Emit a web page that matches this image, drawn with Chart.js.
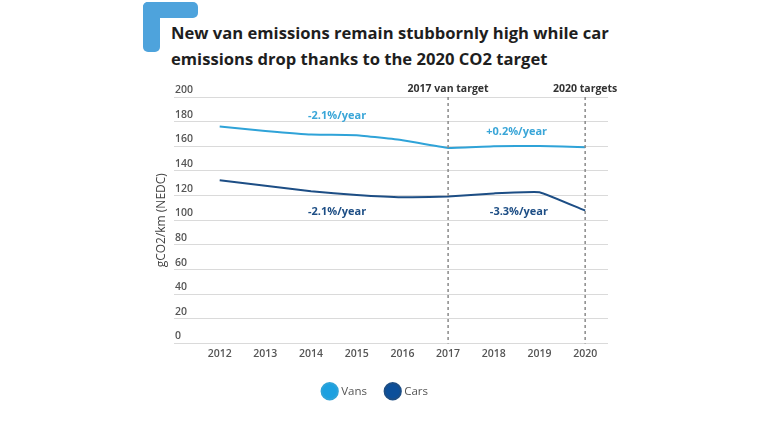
<!DOCTYPE html>
<html>
<head>
<meta charset="utf-8">
<script src="https://cdn.jsdelivr.net/npm/chart.js@4"></script>
<style>
  body { margin: 0; background: #fff; }
  #wrap { position: relative; width: 780px; height: 440px; }
  .corner-h { position: absolute; left: 143px; top: 2px; width: 55px; height: 16px; background: #4ea3dc; border-radius: 5px; }
  .corner-v { position: absolute; left: 143px; top: 2px; width: 17px; height: 50px; background: #4ea3dc; border-radius: 5px; }
  #title { position: absolute; left: 171px; top: 20px; font: 700 16.6px "Open Sans", sans-serif; color: #1e1e1e; line-height: 26px; }
  canvas { position: absolute; left: 0; top: 0; }
</style>
</head>
<body>
<div id="wrap">
  <div class="corner-h"></div>
  <div class="corner-v"></div>
  <div id="title">New van emissions remain stubbornly high while car<br>emissions drop thanks to the 2020 CO2 target</div>
  <canvas id="myChart" width="780" height="440"></canvas>
</div>
<script>
const years = [2012, 2013, 2014, 2015, 2016, 2017, 2018, 2019, 2020];
const vans = [176, 172.5, 169.5, 169, 165, 158.7, 160, 160.3, 159.2];
const cars = [132.5, 128, 123.5, 120.5, 118.7, 119.3, 121.8, 122.8, 107.8];
const yTicks = [0, 20, 40, 60, 80, 100, 120, 140, 160, 180, 200];
const targetYears = [2017, 2020];
const targetLabels = ["2017 van target", "2020 targets"];
const trendNotes = [
  { x: 2014.57, y: 185, text: "-2.1%/year", color: "#3aa6d8" },
  { x: 2018.5, y: 172, text: "+0.2%/year", color: "#3aa6d8" },
  { x: 2014.57, y: 106.5, text: "-2.1%/year", color: "#1d4e85" },
  { x: 2018.55, y: 106.5, text: "-3.3%/year", color: "#1d4e85" },
];

const vanColor = "#2fa3d8";
const carColor = "#1d4e85";

// dashed target lines, their labels and the trend notes
const notesPlugin = {
  id: "notes",
  afterDatasetsDraw(chart) {
    const { ctx, chartArea, scales } = chart;
    ctx.save();
    ctx.strokeStyle = "#8a8a8a";
    ctx.lineWidth = 1.5;
    ctx.setLineDash([3, 3]);
    targetYears.forEach((yr, i) => {
      const x = scales.x.getPixelForValue(yr);
      ctx.beginPath();
      ctx.moveTo(x, chartArea.top);
      ctx.lineTo(x, chartArea.bottom);
      ctx.stroke();
      ctx.fillStyle = "#333";
      ctx.font = "700 10.5px 'Open Sans', sans-serif";
      ctx.textAlign = "center";
      ctx.textBaseline = "middle";
      ctx.fillText(targetLabels[i], x, chartArea.top - 8);
    });
    ctx.setLineDash([]);
    ctx.font = "700 11px 'Open Sans', sans-serif";
    ctx.textAlign = "center";
    ctx.textBaseline = "middle";
    trendNotes.forEach((n) => {
      ctx.fillStyle = n.color;
      ctx.fillText(n.text, scales.x.getPixelForValue(n.x), scales.y.getPixelForValue(n.y));
    });
    ctx.restore();
  },
};

new Chart("myChart", {
  type: "line",
  data: {
    datasets: [
      {
        label: "Vans",
        data: years.map((yr, i) => ({ x: yr, y: vans[i] })),
        borderColor: vanColor,
        backgroundColor: "#1ca0e0",
        borderWidth: 2,
        pointRadius: 0,
        tension: 0.1,
      },
      {
        label: "Cars",
        data: years.map((yr, i) => ({ x: yr, y: cars[i] })),
        borderColor: carColor,
        backgroundColor: "#0c4f9a",
        borderWidth: 2,
        pointRadius: 0,
        tension: 0.1,
      },
    ],
  },
  options: {
    responsive: false,
    animation: false,
    layout: { padding: { left: 144, right: 172, top: 97, bottom: 33 } },
    plugins: {
      tooltip: { enabled: false },
      legend: {
        position: "bottom",
        labels: {
          usePointStyle: true,
          pointStyle: "circle",
          boxWidth: 15,
          boxHeight: 14,
          padding: 20,
          color: "#555",
          font: { family: "'Open Sans', sans-serif", size: 11.5 },
        },
      },
    },
    scales: {
      x: {
        type: "linear",
        min: 2011,
        max: 2020.5,
        afterFit: (scale) => { scale.height = 22; },
        afterBuildTicks: (scale) => { scale.ticks = years.map((v) => ({ value: v })); },
        grid: { display: false, drawTicks: false },
        border: { display: false },
        ticks: {
          padding: 4,
          color: "#555",
          font: { family: "'Open Sans', sans-serif", size: 10.5, weight: 600 },
          callback: (v) => String(v),
        },
      },
      y: {
        min: 0,
        max: 200,
        afterFit: (scale) => { scale.width = 30; },
        afterBuildTicks: (scale) => { scale.ticks = yTicks.map((v) => ({ value: v })); },
        grid: { color: "#dadada", lineWidth: 1, drawTicks: false },
        border: { display: false },
        title: {
          display: true,
          text: "gCO2/km (NEDC)",
          color: "#444",
          padding: { top: 10, bottom: 0 },
          font: { family: "'Open Sans', sans-serif", size: 12 },
        },
        ticks: {
          mirror: true,
          padding: 1,
          labelOffset: -7,
          color: "#555",
          font: { family: "'Open Sans', sans-serif", size: 10.5, weight: 600 },
        },
      },
    },
  },
  plugins: [notesPlugin],
});
</script>
</body>
</html>
